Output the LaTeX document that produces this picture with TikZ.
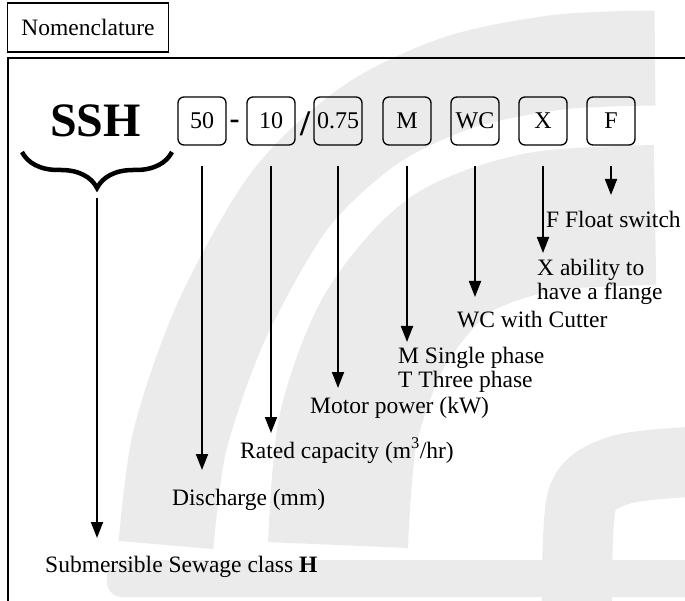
\documentclass[tikz,border=0pt]{standalone}
\usepackage{fontspec}
\setmainfont{Liberation Serif}
\usetikzlibrary{arrows.meta,decorations.pathreplacing}
\definecolor{wmgray}{HTML}{EBEBEB}

\begin{document}
\begin{tikzpicture}[x=1pt, y=-1pt,
    every node/.style={font=\fontsize{23.5}{24}\selectfont},
    codebox/.style={draw, rounded corners=6pt, line width=1.3pt,
      minimum width=48pt, minimum height=48pt, inner sep=1pt,
      font=\fontsize{24}{24}\selectfont},
    lab/.style={anchor=base west, inner sep=0pt, align=left},
    arr/.style={-{Triangle[length=16pt,width=12pt]}, line width=1.8pt}]
    \useasboundingbox (0,0) rectangle (685,601);
    % watermark
    \draw[wmgray, line width=95pt] plot[smooth] coordinates
      {(166,545) (180,440) (222,320) (290,200) (370,125) (460,82) (560,62) (655,58)};
    \draw[wmgray, line width=140pt] plot[smooth] coordinates
      {(338,545) (348,430) (385,330) (450,255) (540,222) (655,215)};
    \draw[wmgray, line width=70pt] plot[smooth] coordinates
      {(577,610) (582,500) (620,470) (690,462)};
    \fill[wmgray, rounded corners=15pt] (107,560) rectangle (700,597);
    % frames
    \node[draw, line width=1.5pt, minimum width=161pt, minimum height=49pt,
      inner sep=0pt] (title) at (88,27.5) {Nomenclature};
    \draw[line width=1.5pt] (685,58) -- (8,58) -- (8,601);
    % class
    \node[font=\fontsize{48}{48}\selectfont\bfseries, anchor=base] (ssh)
      at (95.5,137) {SSH};
    \draw[line width=4.5pt, decorate, decoration={brace, mirror, amplitude=36pt}]
      (22,152) -- (172,152);
    \coordinate (tip) at (97,190);
    % code boxes
    \foreach \n/\x/\t in {b50/202/50, b10/271/10, b075/338/0.75,
      bM/407/M, bWC/475/WC, bX/543/X, bF/611/F}{
      \node[codebox] (\n) at (\x,121) {\t};
    }
    \node[font=\fontsize{30}{30}\selectfont\bfseries] (dash) at (234.5,124) {-};
    \node[font=\fontsize{36}{36}\selectfont\bfseries] (slash) at (305,124) {/};
    % meanings
    \node[lab] (dis) at (172,505) {Discharge (mm)};
    \node[lab] (rat) at (240,458) {Rated capacity (m\textsuperscript{3}/hr)};
    \node[lab] (mot) at (310,413) {Motor power (kW)};
    \node[lab] (pha) at (398,387) {M Single phase\\T Three phase};
    \node[lab] (cut) at (457,327) {WC with Cutter};
    \node[lab] (fla) at (537,300) {X ability to\\have a flange};
    \node[lab] (flo) at (546,228) {F Float switch};
    \node[lab] (sub) at (45,572) {Submersible Sewage class \textbf{H}};
    % arrows
    \foreach \n/\l/\g in {b50/dis/35, b10/rat/25, b075/mot/25, bM/pha/45,
      bWC/cut/30, bX/fla/47, bF/flo/33}{
      \draw[arr, shorten >=\g pt] ([yshift=-20pt]\n.south) -- (\n.south |- \l.base);
    }
    \draw[arr, shorten >=34pt] ([yshift=-8pt]tip) -- (tip |- sub.base);
\end{tikzpicture}
\end{document}
